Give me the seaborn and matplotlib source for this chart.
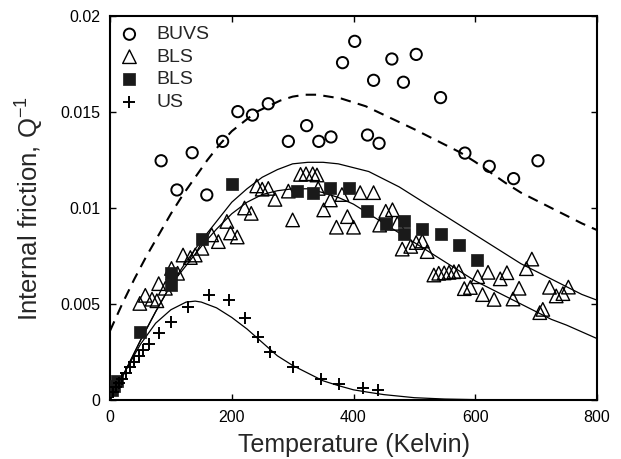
import numpy as np
import pandas as pd
import matplotlib
matplotlib.use("Agg")
import matplotlib.pyplot as plt
import seaborn as sns

# ---------------- data ----------------
buvs_T = [84, 110, 135, 159, 185, 210, 234, 260, 293, 323, 343, 363, 382, 402, 423, 433,
          442, 463, 482, 503, 543, 583, 623, 663, 703]
buvs_Q = [0.01246, 0.01094, 0.01288, 0.01068, 0.01347, 0.01502, 0.01484, 0.01543, 0.01347,
          0.01429, 0.01347, 0.01370, 0.01757, 0.01868, 0.01380, 0.01665, 0.01337, 0.01776,
          0.01655, 0.01800, 0.01575, 0.01286, 0.01217, 0.01153, 0.01246]

bls1_T = [49, 58, 69, 77, 80, 91, 101, 111, 120, 132, 140, 151, 167, 178, 192, 198, 209,
          221, 232, 241, 250, 260, 271, 293, 300, 313, 322, 333, 340, 342, 351, 362, 372,
          381, 390, 400, 411, 433, 443, 453, 464, 472, 480, 494, 503, 513, 521, 532, 540,
          549, 557, 565, 573, 582, 592, 604, 612, 621, 631, 641, 652, 662, 672, 684, 693,
          706, 711, 722, 733, 744, 753]
bls1_Q = [0.00503, 0.00545, 0.00525, 0.00517, 0.00606, 0.00582, 0.00685, 0.00660, 0.00755,
          0.00742, 0.00755, 0.00790, 0.00860, 0.00825, 0.00930, 0.00870, 0.00849, 0.01000,
          0.00972, 0.01115, 0.01098, 0.01102, 0.01045, 0.01088, 0.00938, 0.01175, 0.01178,
          0.01178, 0.01172, 0.01102, 0.00990, 0.01042, 0.00900, 0.01070, 0.00955, 0.00900,
          0.01080, 0.01080, 0.00911, 0.00983, 0.00991, 0.00920, 0.00786, 0.00800, 0.00820,
          0.00828, 0.00773, 0.00651, 0.00660, 0.00662, 0.00665, 0.00668, 0.00670, 0.00580,
          0.00586, 0.00642, 0.00549, 0.00665, 0.00524, 0.00631, 0.00663, 0.00526, 0.00582,
          0.00684, 0.00734, 0.00455, 0.00472, 0.00587, 0.00542, 0.00554, 0.00588]

bls2_T = [3, 7, 12, 49, 100, 100, 151, 200, 307, 333, 362, 393, 422, 453, 483, 483, 512,
          543, 573, 603]
bls2_Q = [0.00050, 0.00075, 0.00100, 0.00354, 0.00663, 0.00597, 0.00840, 0.01123, 0.01090,
          0.01076, 0.01106, 0.01106, 0.00982, 0.00916, 0.00930, 0.00866, 0.00890, 0.00867,
          0.00807, 0.00729]

us_T = [5, 10, 15, 20, 27, 33, 40, 47, 55, 64, 80, 101, 128, 162, 195, 222, 243, 263,
        300, 346, 377, 416, 441]
us_Q = [0.00040, 0.00070, 0.00090, 0.00110, 0.00140, 0.00170, 0.00200, 0.00230, 0.00260,
        0.00290, 0.00347, 0.00408, 0.00486, 0.00547, 0.00521, 0.00425, 0.00330, 0.00252,
        0.00172, 0.00108, 0.00083, 0.00061, 0.00052]

# model curves
dash_T = [0, 20, 40, 60, 80, 100, 120, 140, 160, 180, 200, 220, 240, 260, 280, 300, 320,
          340, 360, 380, 400, 420, 440, 460, 480, 500, 525, 550, 575, 600, 625, 650, 675,
          700, 725, 750, 775, 800]
dash_Q = [0.0036, 0.0050, 0.0063, 0.0075, 0.0086, 0.0097, 0.0107, 0.0116, 0.0125, 0.0133,
          0.0140, 0.0145, 0.0150, 0.0153, 0.0156, 0.0158, 0.0159, 0.0159, 0.0158, 0.0157,
          0.0155, 0.0153, 0.0150, 0.0147, 0.0144, 0.0141, 0.0137, 0.0133, 0.0129, 0.0124,
          0.01185, 0.0113, 0.0108, 0.0104, 0.0100, 0.0096, 0.0092, 0.00885]

fitA_T = [0, 25, 50, 75, 100, 125, 150, 175, 200, 225, 250, 275, 300, 325, 350, 375, 400,
          425, 450, 475, 500, 525, 550, 575, 600, 625, 650, 675, 700, 725, 750, 775, 800]
fitA_Q = [0, 0.0015, 0.0031, 0.0046, 0.0060, 0.0072, 0.0083, 0.0093, 0.0103, 0.0110,
          0.0116, 0.0120, 0.0123, 0.01238, 0.01238, 0.0123, 0.0121, 0.0119, 0.0115, 0.0111,
          0.0106, 0.0101, 0.0096, 0.0091, 0.0086, 0.0081, 0.0076, 0.0071, 0.0067, 0.0063,
          0.0059, 0.0055, 0.0052]

fitB_T = [0, 25, 50, 75, 100, 125, 150, 175, 200, 225, 250, 275, 300, 325, 350, 375, 400,
          425, 450, 475, 500, 525, 550, 575, 600, 625, 650, 675, 700, 725, 750, 775, 800]
fitB_Q = [0, 0.0015, 0.0031, 0.0046, 0.0060, 0.0070, 0.0080, 0.0089, 0.0097, 0.0103,
          0.0107, 0.0109, 0.0110, 0.0110, 0.0108, 0.01055, 0.0102, 0.0097, 0.0092, 0.0087,
          0.0082, 0.0077, 0.0072, 0.0067, 0.0062, 0.0058, 0.0054, 0.0050, 0.0046, 0.0042,
          0.0039, 0.00355, 0.0032]

fitUS_T = [0, 25, 50, 75, 100, 125, 140, 150, 175, 200, 225, 250, 275, 300, 325, 350, 375,
           400, 425, 450, 475, 500, 550, 600]
fitUS_Q = [0, 0.0015, 0.0029, 0.0040, 0.0047, 0.0051, 0.00515, 0.0051, 0.0048, 0.0043,
           0.0037, 0.0030, 0.0023, 0.0018, 0.0014, 0.0010, 0.00075, 0.00053, 0.0004, 0.00028,
           0.0002, 0.00012, 0.00005, 0.00002]

x_ticks = [0, 200, 400, 600, 800]
y_ticks = [0, 0.005, 0.01, 0.015, 0.02]
y_tick_labels = ["0", "0.005", "0.01", "0.015", "0.02"]

# ---------------- plotting ----------------
sns.set_style("ticks")
plt.rcParams["font.family"] = ["Liberation Sans", "DejaVu Sans"]
plt.rcParams["mathtext.fontset"] = "custom"
plt.rcParams["mathtext.rm"] = "Liberation Sans"
plt.rcParams["mathtext.it"] = "Liberation Sans:italic"

fig = plt.figure(figsize=(6.21, 4.59), dpi=100)
ax = fig.add_axes([110 / 621, 59 / 459, 487 / 621, 384 / 459])

sns.lineplot(x=dash_T, y=dash_Q, ax=ax, color="black", lw=1.5,
             linestyle=(0, (5, 3.5)), sort=False)
sns.lineplot(x=fitA_T, y=fitA_Q, ax=ax, color="black", lw=0.9, sort=False)
sns.lineplot(x=fitB_T, y=fitB_Q, ax=ax, color="black", lw=0.9, sort=False)
sns.lineplot(x=fitUS_T, y=fitUS_Q, ax=ax, color="black", lw=0.9, sort=False)

sns.scatterplot(x=buvs_T, y=buvs_Q, ax=ax, marker="o", s=66, facecolor="none",
                edgecolor="black", linewidth=1.4, label="BUVS", zorder=3)
sns.scatterplot(x=bls1_T, y=bls1_Q, ax=ax, marker="^", s=95, facecolor="none",
                edgecolor="black", linewidth=1.0, label="BLS", zorder=3)
sns.scatterplot(x=bls2_T, y=bls2_Q, ax=ax, marker="s", s=64, color="#1a1a1a",
                edgecolor="#1a1a1a", linewidth=0.5, label="BLS", zorder=4)
sns.scatterplot(x=us_T, y=us_Q, ax=ax, marker="+", s=72, color="black",
                linewidth=1.4, label="US", zorder=4)

ax.set_xlim(0, 800)
ax.set_ylim(0, 0.02)
ax.set_xticks(x_ticks)
ax.set_xticklabels([str(t) for t in x_ticks])
ax.set_yticks(y_ticks)
ax.set_yticklabels(y_tick_labels)
ax.tick_params(direction="in", length=4, width=1, top=True, right=True,
               labelsize=11.5, pad=7, colors="black")
for sp in ax.spines.values():
    sp.set_linewidth(1.5)
    sp.set_color("black")

ax.set_xlabel("Temperature (Kelvin)", fontsize=18, labelpad=6)
ax.set_ylabel("Internal friction, Q$^{-1}$", fontsize=18.5, labelpad=10)

leg = ax.legend(loc="upper left", frameon=False, fontsize=14, handlelength=1.0,
                handletextpad=0.9, labelspacing=0.25, borderaxespad=0.3,
                borderpad=0.2, scatterpoints=1)

fig.savefig("out.png", dpi=100)
